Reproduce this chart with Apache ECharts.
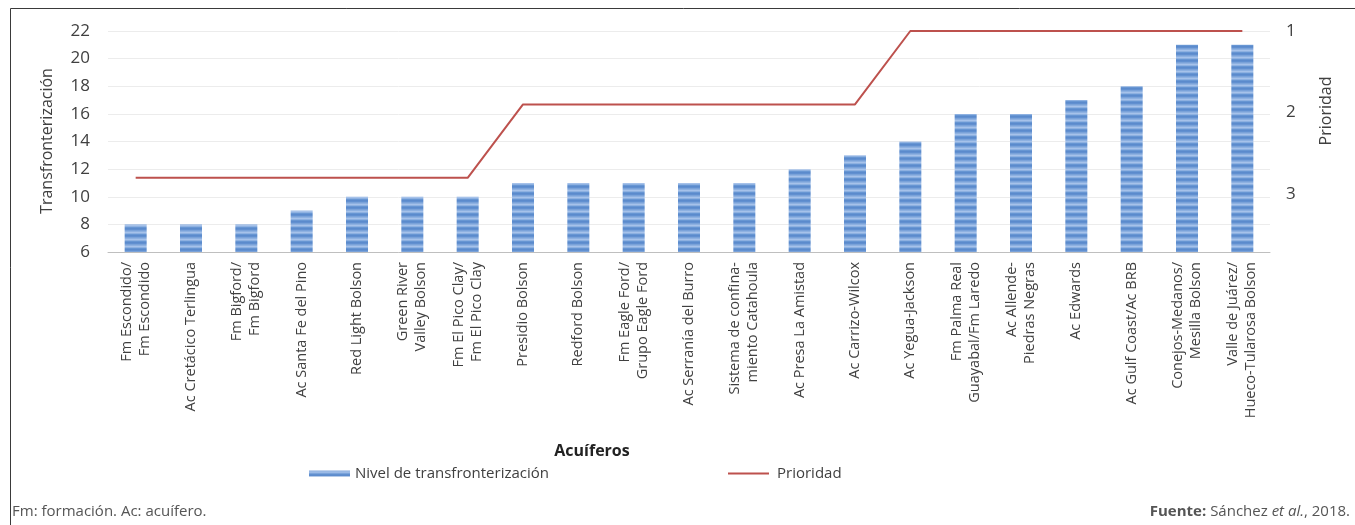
<!DOCTYPE html>
<html>
<head>
<meta charset="utf-8">
<script src="https://cdn.jsdelivr.net/npm/echarts@6/dist/echarts.min.js"></script>
<style>
  html, body { margin: 0; padding: 0; background: #fff; }
  #chart { width: 1355px; height: 525px; }
</style>
</head>
<body>
<div id="chart"></div>
<script>
// Acuíferos transfronterizos: nivel de transfronterización y prioridad
const acuiferos = [
  'Fm Escondido/\nFm Escondido',
  'Ac Cretácico Terlingua',
  'Fm Bigford/\nFm Bigford',
  'Ac Santa Fe del Pino',
  'Red Light Bolson',
  'Green River\nValley Bolson',
  'Fm El Pico Clay/\nFm El Pico Clay',
  'Presidio Bolson',
  'Redford Bolson',
  'Fm Eagle Ford/\nGrupo Eagle Ford',
  'Ac Serranía del Burro',
  'Sistema de confina-\nmiento Catahoula',
  'Ac Presa La Amistad',
  'Ac Carrizo-Wilcox',
  'Ac Yegua-Jackson',
  'Fm Palma Real\nGuayabal/Fm Laredo',
  'Ac Allende-\nPiedras Negras',
  'Ac Edwards',
  'Ac Gulf Coast/Ac BRB',
  'Conejos-Medanos/\nMesilla Bolson',
  'Valle de Juárez/\nHueco-Tularosa Bolson'
];
const nivelTransfronterizacion = [8, 8, 8, 9, 10, 10, 10, 11, 11, 11, 11, 11, 12, 13, 14, 16, 16, 17, 18, 21, 21];
const prioridad = [2.8, 2.8, 2.8, 2.8, 2.8, 2.8, 2.8, 1.9, 1.9, 1.9, 1.9, 1.9, 1.9, 1.9, 1, 1, 1, 1, 1, 1, 1];
const prioridadTicks = [1, 2, 3];

const FONT = '"Open Sans", "Noto Sans", sans-serif';
const TEXT = '#404040';
const LINE_COLOR = '#bd514d';

// striped blue fill for the bars
function stripePattern() {
  const c = document.createElement('canvas');
  c.width = 4; c.height = 7;
  const g = c.getContext('2d');
  const rows = ['#8eb1e1', '#a6c2ea', '#8eb1e1', '#6796d3', '#5b8acc', '#6190d0', '#7aa2d9'];
  rows.forEach((col, i) => { g.fillStyle = col; g.fillRect(0, i, 4, 1); });
  return c;
}
const barFill = { image: stripePattern(), repeat: 'repeat' };

const chart = echarts.init(document.getElementById('chart'), null, { renderer: 'canvas' });

chart.setOption({
  backgroundColor: '#ffffff',
  animation: false,
  textStyle: { fontFamily: FONT, color: TEXT },
  grid: { left: 108, right: 85, top: 31, bottom: 273, containLabel: false },
  legend: [
    {
      left: 304,
      top: 461,
      itemWidth: 41,
      itemHeight: 6,
      textStyle: { fontFamily: FONT, fontSize: 15, color: TEXT },
      data: [{ name: 'Nivel de transfronterización', icon: 'rect' }]
    },
    {
      left: 723,
      top: 461,
      itemWidth: 41,
      itemHeight: 2,
      textStyle: { fontFamily: FONT, fontSize: 15, color: TEXT, padding: [0, 0, 0, 3] },
      data: [{ name: 'Prioridad', icon: 'rect', itemStyle: { color: LINE_COLOR } }]
    }
  ],
  xAxis: {
    type: 'category',
    data: acuiferos,
    axisLine: { show: true, lineStyle: { color: '#bfbfbf', width: 1 } },
    axisTick: { show: false },
    axisLabel: {
      interval: 0,
      rotate: 90,
      margin: 10,
      fontFamily: FONT,
      fontSize: 14.5,
      lineHeight: 18,
      color: TEXT
    }
  },
  yAxis: [
    {
      type: 'value',
      min: 6,
      max: 22,
      interval: 2,
      axisLine: { show: false },
      axisTick: { show: false },
      axisLabel: { fontFamily: FONT, fontSize: 17, color: TEXT, margin: 18 },
      splitLine: { show: true, lineStyle: { color: '#ececec', width: 1 } }
    },
    {
      type: 'value',
      inverse: true,
      min: 1,
      max: 3.71,
      interval: 1,
      position: 'right',
      axisLine: { show: false },
      axisTick: { show: false },
      splitLine: { show: false },
      axisLabel: {
        fontFamily: FONT, fontSize: 17, color: TEXT, margin: 16,
        formatter: v => prioridadTicks.includes(v) ? String(v) : ''
      }
    }
  ],
  series: [
    {
      name: 'Nivel de transfronterización',
      type: 'bar',
      data: nivelTransfronterizacion,
      barWidth: 22,
      yAxisIndex: 0,
      itemStyle: { color: barFill }
    },
    {
      name: 'Prioridad',
      type: 'line',
      data: prioridad,
      yAxisIndex: 1,
      symbol: 'none',
      lineStyle: { color: LINE_COLOR, width: 2 },
      itemStyle: { color: LINE_COLOR }
    }
  ],
  graphic: [
    {
      type: 'rect',
      silent: true,
      shape: { x: 10.5, y: 8.5, width: 2000, height: 2000 },
      style: { fill: null, stroke: '#3a3a3a', lineWidth: 1 }
    },
    {
      type: 'text',
      x: 47, y: 141,
      rotation: Math.PI / 2,
      style: { text: 'Transfronterización', font: '16px ' + FONT, fill: TEXT, align: 'center', verticalAlign: 'middle' }
    },
    {
      type: 'text',
      x: 1326, y: 111,
      rotation: Math.PI / 2,
      style: { text: 'Prioridad', font: '16px ' + FONT, fill: TEXT, align: 'center', verticalAlign: 'middle' }
    },
    {
      type: 'text',
      x: 592, y: 451,
      style: { text: 'Acuíferos', font: 'bold 16px ' + FONT, fill: '#222', align: 'center', verticalAlign: 'middle' }
    },
    {
      type: 'text',
      x: 12, y: 512,
      style: { text: 'Fm: formación. Ac: acuífero.', font: '15px ' + FONT, fill: '#555', align: 'left', verticalAlign: 'middle' }
    },
    {
      type: 'text',
      x: 1350, y: 512,
      style: {
        text: '{b|Fuente:} Sánchez {i|et al.}, 2018.',
        font: '15px ' + FONT,
        fill: '#555',
        align: 'right',
        verticalAlign: 'middle',
        rich: {
          b: { fontFamily: FONT, fontSize: 15, fontWeight: 'bold', color: '#222' },
          i: { fontFamily: FONT, fontSize: 15, fontStyle: 'italic', color: '#555' }
        }
      }
    }
  ]
});
</script>
</body>
</html>
